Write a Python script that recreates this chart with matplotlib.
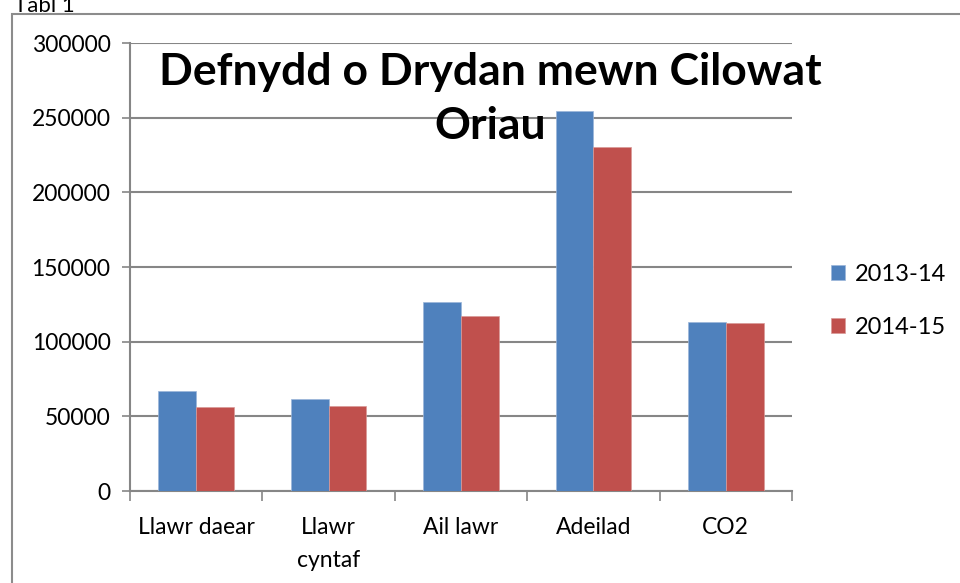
import matplotlib

matplotlib.use("Agg")
import matplotlib.pyplot as plt
from matplotlib.patches import Rectangle
import numpy as np

CATEGORIES = ["Llawr daear", "Llawr\ncyntaf", "Ail lawr", "Adeilad", "CO2"]
SERIES_NAMES = ["2013-14", "2014-15"]
VALUES_2013 = [67000, 61500, 126500, 254500, 113500]
VALUES_2014 = [56500, 57000, 117500, 230400, 112800]
Y_TICKS = [0, 50000, 100000, 150000, 200000, 250000, 300000]

BLUE = "#4F81BD"
RED = "#C0504D"
GRID = "#868686"
FONT = ["Lato", "DejaVu Sans"]

plt.rcParams["font.family"] = FONT

fig = plt.figure(figsize=(9.6, 5.83), dpi=100)

# outer chart frame (cut off at right / bottom like the source)
fig.patches.append(Rectangle((12 / 960, -0.05), 1.2, 1 - 14 / 583 + 0.05,
                             transform=fig.transFigure, fill=False,
                             edgecolor="#8c8c8c", linewidth=1.5))
fig.text(14 / 960, 1 - 12 / 583, "Tabl 1", fontsize=16, va="baseline", ha="left")

ax = fig.add_axes([130 / 960, 1 - 491 / 583, 662 / 960, 448 / 583])

x = np.arange(len(CATEGORIES))
w = 1 / 3.5
ax.bar(x - w / 2, VALUES_2013, width=w, color=BLUE, label=SERIES_NAMES[0],
       edgecolor="#9bb5d9", linewidth=0.5, zorder=3)
ax.bar(x + w / 2, VALUES_2014, width=w, color=RED, label=SERIES_NAMES[1],
       edgecolor="#d99a98", linewidth=0.5, zorder=3)

ax.set_xlim(-0.5, len(CATEGORIES) - 0.5)
ax.set_ylim(0, 300000)
ax.set_yticks(Y_TICKS)
ax.set_yticklabels([str(v) for v in Y_TICKS], fontsize=16.5)
ax.yaxis.grid(True, color=GRID, linewidth=1.5, zorder=0)
ax.set_axisbelow(True)

ax.set_xticks(np.arange(-0.5, len(CATEGORIES)), labels=[])
ax.set_xticks(x, labels=CATEGORIES, minor=True, fontsize=16.5)
ax.tick_params(axis="x", which="major", length=7, color=GRID, width=1.2)
ax.tick_params(axis="x", which="minor", length=0, pad=19)
ax.tick_params(axis="y", length=6, color=GRID, width=1.2, pad=8)
for lab in ax.get_xticklabels(minor=True):
    lab.set_verticalalignment("top")
    lab.set_linespacing(1.7)

for side in ("top", "right"):
    ax.spines[side].set_visible(False)
for side in ("left", "bottom"):
    ax.spines[side].set_color(GRID)
    ax.spines[side].set_linewidth(1.5)

ax.text(0.544, 0.875, "Defnydd o Drydan mewn Cilowat\nOriau", transform=ax.transAxes,
        ha="center", va="center", fontsize=32, fontweight="bold",
        linespacing=1.42, zorder=2)

fig.legend(loc="center left", bbox_to_anchor=(810 / 960, 1 - 301 / 583),
           frameon=False, fontsize=17, handlelength=0.6, handleheight=0.6,
           handletextpad=0.4, labelspacing=1.35)

fig.savefig("out.png", dpi=100)
